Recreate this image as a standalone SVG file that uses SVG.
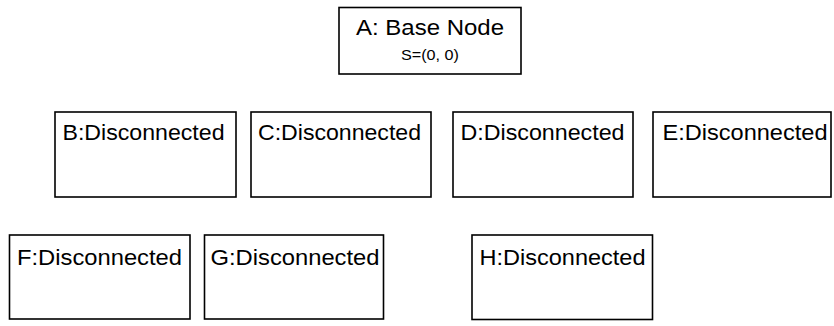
<svg xmlns="http://www.w3.org/2000/svg" width="834" height="326" viewBox="0 0 834 326">
  <style>
    .box { fill: #ffffff; stroke: #000000; stroke-width: 1.6; }
    .title { font-family: "Liberation Sans", Arial, sans-serif; font-size: 22.5px; fill: #000000; }
    .sub { font-family: "Liberation Sans", Arial, sans-serif; font-size: 14px; fill: #000000; }
  </style>
  <rect width="834" height="326" fill="#ffffff"/>
  <g id="connectors"/>
  <g id="node-A">
    <rect class="box" x="339" y="7.5" width="182" height="66.5"/>
    <text class="title" x="430" y="35" text-anchor="middle" textLength="148" lengthAdjust="spacingAndGlyphs">A: Base Node</text>
    <text class="sub" x="430" y="60" text-anchor="middle" textLength="58" lengthAdjust="spacingAndGlyphs">S=(0, 0)</text>
  </g>
  <g id="node-B">
    <rect class="box" x="55" y="112" width="181" height="85"/>
    <text class="title" x="62.5" y="140" textLength="162" lengthAdjust="spacingAndGlyphs">B:Disconnected</text>
  </g>
  <g id="node-C">
    <rect class="box" x="251" y="112" width="180" height="85"/>
    <text class="title" x="258" y="140" textLength="163" lengthAdjust="spacingAndGlyphs">C:Disconnected</text>
  </g>
  <g id="node-D">
    <rect class="box" x="453" y="112" width="180" height="85"/>
    <text class="title" x="460.5" y="140" textLength="164" lengthAdjust="spacingAndGlyphs">D:Disconnected</text>
  </g>
  <g id="node-E">
    <rect class="box" x="653" y="112" width="178" height="85"/>
    <text class="title" x="662.5" y="140" textLength="165" lengthAdjust="spacingAndGlyphs">E:Disconnected</text>
  </g>
  <g id="node-F">
    <rect class="box" x="9.5" y="235" width="180.5" height="84"/>
    <text class="title" x="17" y="265" textLength="165" lengthAdjust="spacingAndGlyphs">F:Disconnected</text>
  </g>
  <g id="node-G">
    <rect class="box" x="204.5" y="235" width="179" height="84"/>
    <text class="title" x="210.5" y="265" textLength="169" lengthAdjust="spacingAndGlyphs">G:Disconnected</text>
  </g>
  <g id="node-H">
    <rect class="box" x="472" y="235" width="180.5" height="84.5"/>
    <text class="title" x="479.5" y="265" textLength="166" lengthAdjust="spacingAndGlyphs">H:Disconnected</text>
  </g>
</svg>
